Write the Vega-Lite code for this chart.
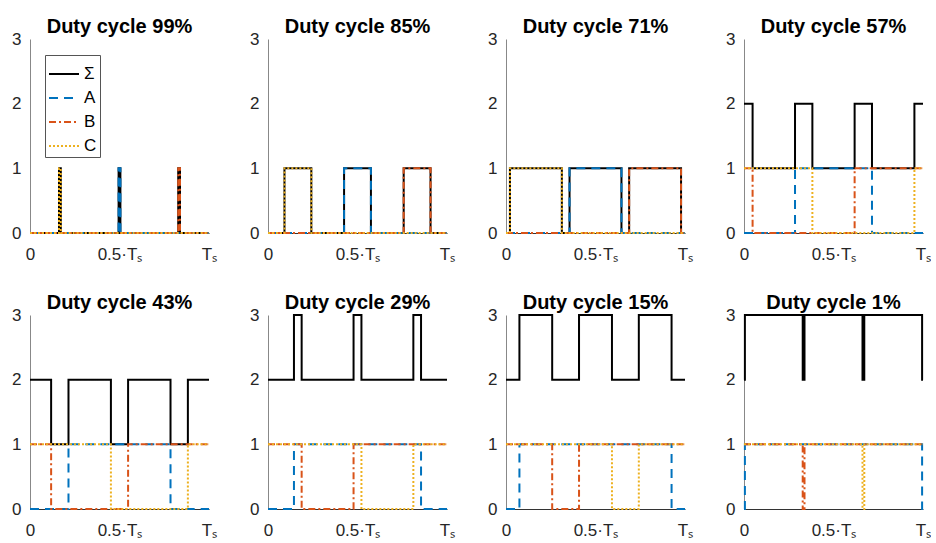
{
  "$schema": "https://vega.github.io/schema/vega-lite/v6.json",
  "padding": {"left": 11, "top": 17, "right": 0, "bottom": 0},
  "background": "white",
  "data": {"values": [
    {"p":"Duty cycle 99%","s":"Σ","x":0,"y":0},{"p":"Duty cycle 99%","s":"Σ","x":0.162,"y":1},{"p":"Duty cycle 99%","s":"Σ","x":0.172,"y":0},{"p":"Duty cycle 99%","s":"Σ","x":0.495,"y":1},{"p":"Duty cycle 99%","s":"Σ","x":0.505,"y":0},{"p":"Duty cycle 99%","s":"Σ","x":0.828,"y":1},{"p":"Duty cycle 99%","s":"Σ","x":0.838,"y":0},{"p":"Duty cycle 99%","s":"Σ","x":1,"y":0},
    {"p":"Duty cycle 99%","s":"A","x":0,"y":0},{"p":"Duty cycle 99%","s":"A","x":0.495,"y":1},{"p":"Duty cycle 99%","s":"A","x":0.505,"y":0},{"p":"Duty cycle 99%","s":"A","x":1,"y":0},
    {"p":"Duty cycle 99%","s":"B","x":0,"y":0},{"p":"Duty cycle 99%","s":"B","x":0.828,"y":1},{"p":"Duty cycle 99%","s":"B","x":0.838,"y":0},{"p":"Duty cycle 99%","s":"B","x":1,"y":0},
    {"p":"Duty cycle 99%","s":"C","x":0,"y":0},{"p":"Duty cycle 99%","s":"C","x":0.162,"y":1},{"p":"Duty cycle 99%","s":"C","x":0.172,"y":0},{"p":"Duty cycle 99%","s":"C","x":1,"y":0},

    {"p":"Duty cycle 85%","s":"Σ","x":0,"y":0},{"p":"Duty cycle 85%","s":"Σ","x":0.092,"y":1},{"p":"Duty cycle 85%","s":"Σ","x":0.242,"y":0},{"p":"Duty cycle 85%","s":"Σ","x":0.425,"y":1},{"p":"Duty cycle 85%","s":"Σ","x":0.575,"y":0},{"p":"Duty cycle 85%","s":"Σ","x":0.758,"y":1},{"p":"Duty cycle 85%","s":"Σ","x":0.908,"y":0},{"p":"Duty cycle 85%","s":"Σ","x":1,"y":0},
    {"p":"Duty cycle 85%","s":"A","x":0,"y":0},{"p":"Duty cycle 85%","s":"A","x":0.425,"y":1},{"p":"Duty cycle 85%","s":"A","x":0.575,"y":0},{"p":"Duty cycle 85%","s":"A","x":1,"y":0},
    {"p":"Duty cycle 85%","s":"B","x":0,"y":0},{"p":"Duty cycle 85%","s":"B","x":0.758,"y":1},{"p":"Duty cycle 85%","s":"B","x":0.908,"y":0},{"p":"Duty cycle 85%","s":"B","x":1,"y":0},
    {"p":"Duty cycle 85%","s":"C","x":0,"y":0},{"p":"Duty cycle 85%","s":"C","x":0.092,"y":1},{"p":"Duty cycle 85%","s":"C","x":0.242,"y":0},{"p":"Duty cycle 85%","s":"C","x":1,"y":0},

    {"p":"Duty cycle 71%","s":"Σ","x":0,"y":0},{"p":"Duty cycle 71%","s":"Σ","x":0.022,"y":1},{"p":"Duty cycle 71%","s":"Σ","x":0.312,"y":0},{"p":"Duty cycle 71%","s":"Σ","x":0.355,"y":1},{"p":"Duty cycle 71%","s":"Σ","x":0.645,"y":0},{"p":"Duty cycle 71%","s":"Σ","x":0.688,"y":1},{"p":"Duty cycle 71%","s":"Σ","x":0.978,"y":0},{"p":"Duty cycle 71%","s":"Σ","x":1,"y":0},
    {"p":"Duty cycle 71%","s":"A","x":0,"y":0},{"p":"Duty cycle 71%","s":"A","x":0.355,"y":1},{"p":"Duty cycle 71%","s":"A","x":0.645,"y":0},{"p":"Duty cycle 71%","s":"A","x":1,"y":0},
    {"p":"Duty cycle 71%","s":"B","x":0,"y":0},{"p":"Duty cycle 71%","s":"B","x":0.688,"y":1},{"p":"Duty cycle 71%","s":"B","x":0.978,"y":0},{"p":"Duty cycle 71%","s":"B","x":1,"y":0},
    {"p":"Duty cycle 71%","s":"C","x":0,"y":0},{"p":"Duty cycle 71%","s":"C","x":0.022,"y":1},{"p":"Duty cycle 71%","s":"C","x":0.312,"y":0},{"p":"Duty cycle 71%","s":"C","x":1,"y":0},

    {"p":"Duty cycle 57%","s":"Σ","x":0,"y":2},{"p":"Duty cycle 57%","s":"Σ","x":0.048,"y":1},{"p":"Duty cycle 57%","s":"Σ","x":0.285,"y":2},{"p":"Duty cycle 57%","s":"Σ","x":0.382,"y":1},{"p":"Duty cycle 57%","s":"Σ","x":0.618,"y":2},{"p":"Duty cycle 57%","s":"Σ","x":0.715,"y":1},{"p":"Duty cycle 57%","s":"Σ","x":0.952,"y":2},{"p":"Duty cycle 57%","s":"Σ","x":1,"y":2},
    {"p":"Duty cycle 57%","s":"A","x":0,"y":0},{"p":"Duty cycle 57%","s":"A","x":0.285,"y":1},{"p":"Duty cycle 57%","s":"A","x":0.715,"y":0},{"p":"Duty cycle 57%","s":"A","x":1,"y":0},
    {"p":"Duty cycle 57%","s":"B","x":0,"y":1},{"p":"Duty cycle 57%","s":"B","x":0.048,"y":0},{"p":"Duty cycle 57%","s":"B","x":0.618,"y":1},{"p":"Duty cycle 57%","s":"B","x":1,"y":1},
    {"p":"Duty cycle 57%","s":"C","x":0,"y":1},{"p":"Duty cycle 57%","s":"C","x":0.382,"y":0},{"p":"Duty cycle 57%","s":"C","x":0.952,"y":1},{"p":"Duty cycle 57%","s":"C","x":1,"y":1},

    {"p":"Duty cycle 43%","s":"Σ","x":0,"y":2},{"p":"Duty cycle 43%","s":"Σ","x":0.118,"y":1},{"p":"Duty cycle 43%","s":"Σ","x":0.215,"y":2},{"p":"Duty cycle 43%","s":"Σ","x":0.452,"y":1},{"p":"Duty cycle 43%","s":"Σ","x":0.548,"y":2},{"p":"Duty cycle 43%","s":"Σ","x":0.785,"y":1},{"p":"Duty cycle 43%","s":"Σ","x":0.882,"y":2},{"p":"Duty cycle 43%","s":"Σ","x":1,"y":2},
    {"p":"Duty cycle 43%","s":"A","x":0,"y":0},{"p":"Duty cycle 43%","s":"A","x":0.215,"y":1},{"p":"Duty cycle 43%","s":"A","x":0.785,"y":0},{"p":"Duty cycle 43%","s":"A","x":1,"y":0},
    {"p":"Duty cycle 43%","s":"B","x":0,"y":1},{"p":"Duty cycle 43%","s":"B","x":0.118,"y":0},{"p":"Duty cycle 43%","s":"B","x":0.548,"y":1},{"p":"Duty cycle 43%","s":"B","x":1,"y":1},
    {"p":"Duty cycle 43%","s":"C","x":0,"y":1},{"p":"Duty cycle 43%","s":"C","x":0.452,"y":0},{"p":"Duty cycle 43%","s":"C","x":0.882,"y":1},{"p":"Duty cycle 43%","s":"C","x":1,"y":1},

    {"p":"Duty cycle 29%","s":"Σ","x":0,"y":2},{"p":"Duty cycle 29%","s":"Σ","x":0.145,"y":3},{"p":"Duty cycle 29%","s":"Σ","x":0.188,"y":2},{"p":"Duty cycle 29%","s":"Σ","x":0.478,"y":3},{"p":"Duty cycle 29%","s":"Σ","x":0.522,"y":2},{"p":"Duty cycle 29%","s":"Σ","x":0.812,"y":3},{"p":"Duty cycle 29%","s":"Σ","x":0.855,"y":2},{"p":"Duty cycle 29%","s":"Σ","x":1,"y":2},
    {"p":"Duty cycle 29%","s":"A","x":0,"y":0},{"p":"Duty cycle 29%","s":"A","x":0.145,"y":1},{"p":"Duty cycle 29%","s":"A","x":0.855,"y":0},{"p":"Duty cycle 29%","s":"A","x":1,"y":0},
    {"p":"Duty cycle 29%","s":"B","x":0,"y":1},{"p":"Duty cycle 29%","s":"B","x":0.188,"y":0},{"p":"Duty cycle 29%","s":"B","x":0.478,"y":1},{"p":"Duty cycle 29%","s":"B","x":1,"y":1},
    {"p":"Duty cycle 29%","s":"C","x":0,"y":1},{"p":"Duty cycle 29%","s":"C","x":0.522,"y":0},{"p":"Duty cycle 29%","s":"C","x":0.812,"y":1},{"p":"Duty cycle 29%","s":"C","x":1,"y":1},

    {"p":"Duty cycle 15%","s":"Σ","x":0,"y":2},{"p":"Duty cycle 15%","s":"Σ","x":0.075,"y":3},{"p":"Duty cycle 15%","s":"Σ","x":0.258,"y":2},{"p":"Duty cycle 15%","s":"Σ","x":0.408,"y":3},{"p":"Duty cycle 15%","s":"Σ","x":0.592,"y":2},{"p":"Duty cycle 15%","s":"Σ","x":0.742,"y":3},{"p":"Duty cycle 15%","s":"Σ","x":0.925,"y":2},{"p":"Duty cycle 15%","s":"Σ","x":1,"y":2},
    {"p":"Duty cycle 15%","s":"A","x":0,"y":0},{"p":"Duty cycle 15%","s":"A","x":0.075,"y":1},{"p":"Duty cycle 15%","s":"A","x":0.925,"y":0},{"p":"Duty cycle 15%","s":"A","x":1,"y":0},
    {"p":"Duty cycle 15%","s":"B","x":0,"y":1},{"p":"Duty cycle 15%","s":"B","x":0.258,"y":0},{"p":"Duty cycle 15%","s":"B","x":0.408,"y":1},{"p":"Duty cycle 15%","s":"B","x":1,"y":1},
    {"p":"Duty cycle 15%","s":"C","x":0,"y":1},{"p":"Duty cycle 15%","s":"C","x":0.592,"y":0},{"p":"Duty cycle 15%","s":"C","x":0.742,"y":1},{"p":"Duty cycle 15%","s":"C","x":1,"y":1},

    {"p":"Duty cycle 1%","s":"Σ","x":0,"y":2},{"p":"Duty cycle 1%","s":"Σ","x":0.005,"y":3},{"p":"Duty cycle 1%","s":"Σ","x":0.328,"y":2},{"p":"Duty cycle 1%","s":"Σ","x":0.338,"y":3},{"p":"Duty cycle 1%","s":"Σ","x":0.662,"y":2},{"p":"Duty cycle 1%","s":"Σ","x":0.672,"y":3},{"p":"Duty cycle 1%","s":"Σ","x":0.995,"y":2},{"p":"Duty cycle 1%","s":"Σ","x":1,"y":2},
    {"p":"Duty cycle 1%","s":"A","x":0,"y":0},{"p":"Duty cycle 1%","s":"A","x":0.005,"y":1},{"p":"Duty cycle 1%","s":"A","x":0.995,"y":0},{"p":"Duty cycle 1%","s":"A","x":1,"y":0},
    {"p":"Duty cycle 1%","s":"B","x":0,"y":1},{"p":"Duty cycle 1%","s":"B","x":0.328,"y":0},{"p":"Duty cycle 1%","s":"B","x":0.338,"y":1},{"p":"Duty cycle 1%","s":"B","x":1,"y":1},
    {"p":"Duty cycle 1%","s":"C","x":0,"y":1},{"p":"Duty cycle 1%","s":"C","x":0.662,"y":0},{"p":"Duty cycle 1%","s":"C","x":0.672,"y":1},{"p":"Duty cycle 1%","s":"C","x":1,"y":1}
  ]},
  "facet": {
    "field": "p", "type": "nominal",
    "sort": ["Duty cycle 99%","Duty cycle 85%","Duty cycle 71%","Duty cycle 57%","Duty cycle 43%","Duty cycle 29%","Duty cycle 15%","Duty cycle 1%"],
    "header": {"title": null, "labelFontSize": 20, "labelFontWeight": "bold", "labelColor": "#000000", "labelFont": "Liberation Sans", "labelPadding": -7}
  },
  "columns": 4,
  "spacing": {"column": 59, "row": 82},
  "bounds": "flush",
  "resolve": {"axis": {"x": "independent", "y": "independent"}},
  "spec": {
    "width": 179,
    "height": 194,
    "mark": {"type": "line", "interpolate": "step-after", "strokeWidth": 2, "clip": false},
    "encoding": {
      "x": {"field": "x", "type": "quantitative", "scale": {"domain": [0, 1], "nice": false, "zero": false},
        "axis": {"title": null, "values": [0, 0.5, 1], "labelExpr": "datum.value == 0 ? '0' : (datum.value == 0.5 ? '0.5·Tₛ' : 'Tₛ')", "grid": false, "ticks": false, "labelPadding": 13, "domainColor": "#333333", "labelFlush": false}},
      "y": {"field": "y", "type": "quantitative", "scale": {"domain": [0, 3], "nice": false},
        "axis": {"title": null, "values": [0, 1, 2, 3], "grid": false, "ticks": false, "labelPadding": 9, "domainColor": "#888888", "labelFlush": false}},
      "color": {"field": "s", "type": "nominal",
        "scale": {"domain": ["Σ", "A", "B", "C"], "range": ["#000000", "#0072BD", "#D95319", "#EDB120"]},
        "legend": {"title": null, "orient": "none", "legendX": 15, "legendY": 16, "symbolType": "stroke", "symbolSize": 900, "symbolStrokeWidth": 2, "labelFontSize": 17, "labelFont": "Liberation Sans", "labelColor": "#000000", "strokeColor": "#555555", "fillColor": "#ffffff", "padding": 3, "rowPadding": -2, "labelOffset": 4}},
      "strokeDash": {"field": "s", "type": "nominal",
        "scale": {"domain": ["Σ", "A", "B", "C"], "range": [[1, 0], [9, 6], [7, 3, 2, 3], [2, 2]]}}
    }
  },
  "config": {
    "view": {"stroke": null},
    "font": "Liberation Sans",
    "axis": {"labelFontSize": 17, "labelColor": "#262626", "labelFont": "Liberation Sans", "domainWidth": 1}
  }
}
